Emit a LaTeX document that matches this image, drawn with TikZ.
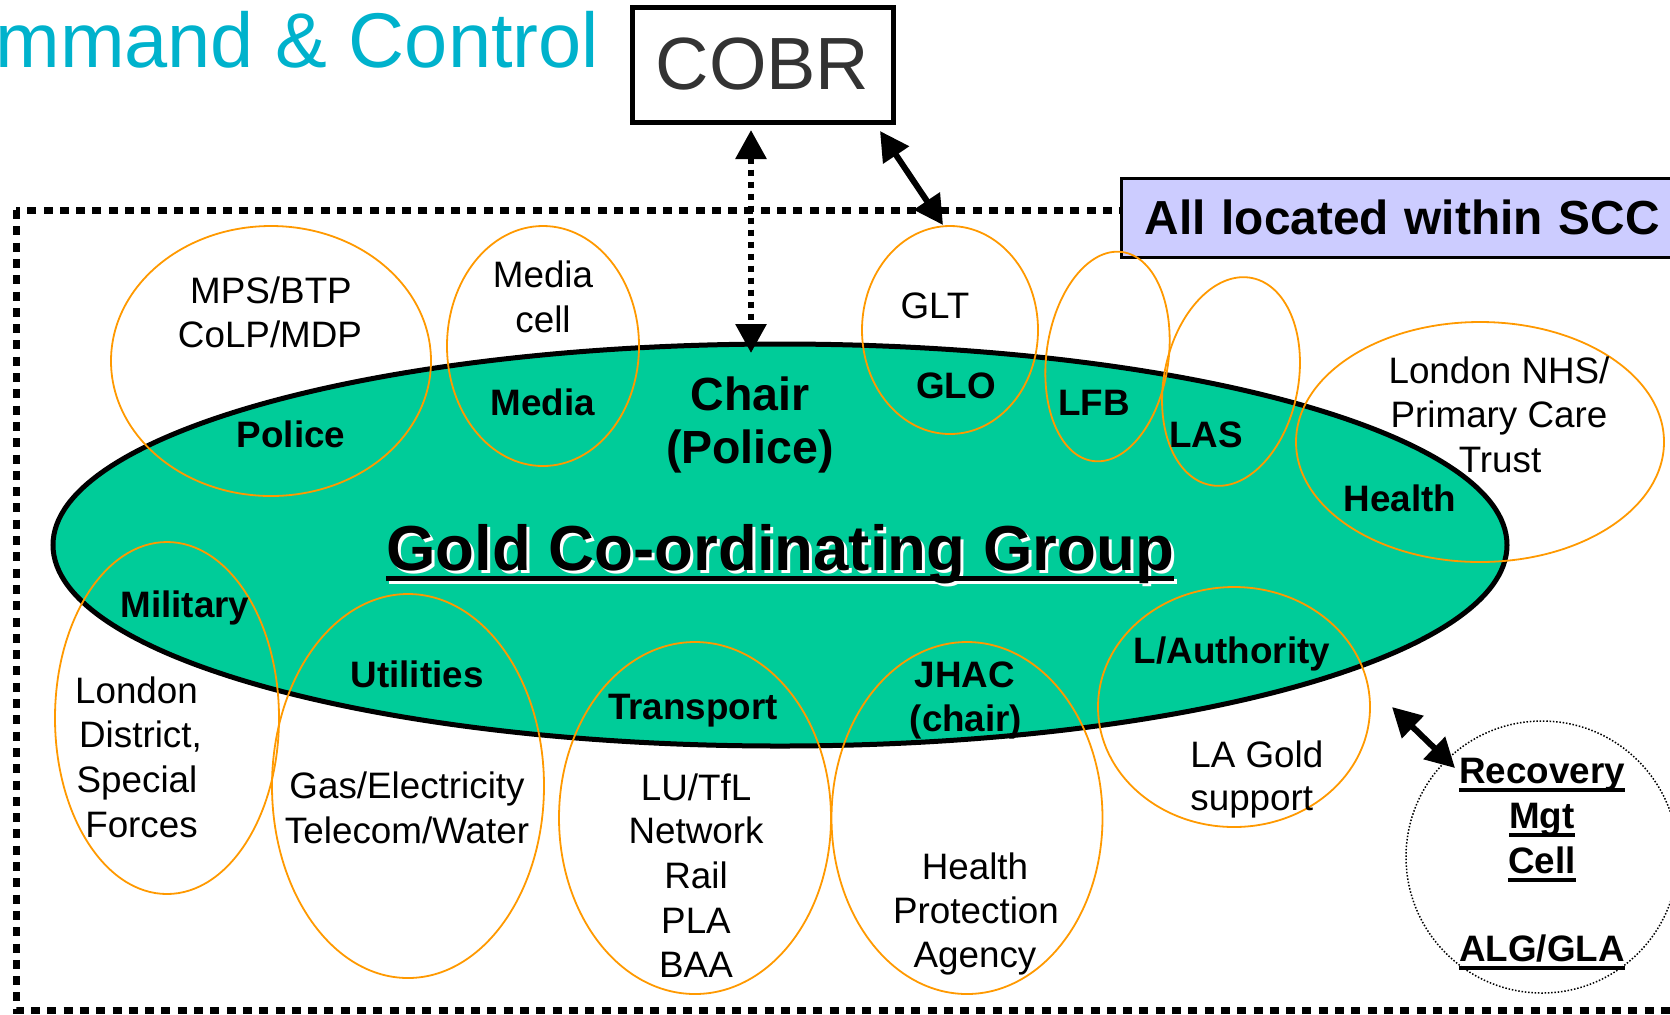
\documentclass[tikz,border=0pt]{standalone}
\usepackage{fontspec}
\setmainfont{Liberation Sans}
\usetikzlibrary{shapes.geometric,arrows.meta,calc}
\definecolor{gcgreen}{RGB}{0,204,153}
\definecolor{orangec}{RGB}{255,153,0}
\definecolor{titlecyan}{RGB}{0,178,204}
\definecolor{scclav}{RGB}{204,204,255}
\definecolor{cobrgray}{RGB}{51,51,51}
\newsavebox{\ulsave}
\newcommand{\ulbox}[3]{\sbox{\ulsave}{#3}\rlap{\rule[-#1]{\wd\ulsave}{#2}}\usebox{\ulsave}}
\begin{document}
\begin{tikzpicture}[x=0.5pt,y=-0.5pt,
  lbl/.style={inner sep=0pt, anchor=base, font=\fontsize{18.4}{22}\selectfont},
  blbl/.style={inner sep=0pt, anchor=base, font=\fontsize{18.4}{22}\selectfont\bfseries},
  chairlbl/.style={inner sep=0pt, anchor=base, font=\fontsize{23.25}{26}\selectfont\bfseries},
  reclbl/.style={inner sep=0pt, anchor=base, font=\fontsize{18.4}{22}\selectfont\bfseries},
  goldlbl/.style={inner sep=0pt, anchor=base, font=\fontsize{31.8}{34}\selectfont\bfseries},
  oell/.style={ellipse, draw=orangec, line width=0.9pt, inner sep=0pt, outer sep=0pt},
  frame/.style={line width=3.5pt, dash pattern=on 4.5pt off 3.65pt},
  arr/.style={line width=3pt, >={Triangle[length=14.5pt,width=15pt]}, <->},
]
\useasboundingbox (0,0) rectangle (1670,1014);
\clip (0,0) rectangle (1670,1014);

% dotted frame
\draw[frame] (16,210) rectangle (1720,1010);

% SCC label box
\node[draw, fill=scclav, line width=1.5pt, anchor=west, minimum height=39.5pt,
      text width=267pt, inner xsep=11.5pt, inner ysep=0pt, align=left,
      font=\fontsize{23.9}{26}\selectfont\bfseries] (scc) at (1120,217.5) {All located within SCC};

% main ellipse
\node[ellipse, draw, line width=2.5pt, fill=gcgreen, minimum width=727pt, minimum height=201pt,
      inner sep=0pt, outer sep=0pt] (gcg) at (780,545) {};

% orange ellipses
\node[oell, minimum width=160pt, minimum height=135pt] (police) at (271,361) {};
\node[oell, minimum width=96pt, minimum height=120pt] (media) at (543,346) {};
\node[oell, minimum width=88pt, minimum height=104pt] (glo) at (950,330) {};
\node[oell, minimum width=61pt, minimum height=105.5pt, rotate=-8] (lfb) at (1107.5,356.5) {};
\node[oell, minimum width=67pt, minimum height=105.6pt, rotate=-11.5] (las) at (1231,381.5) {};
\node[oell, minimum width=184pt, minimum height=120pt] (health) at (1480,442) {};
\node[oell, minimum width=112pt, minimum height=176pt] (military) at (167,718) {};
\node[oell, minimum width=136pt, minimum height=192pt] (utilities) at (408,786) {};
\node[oell, minimum width=136pt, minimum height=176pt] (transport) at (695,818) {};
\node[oell, minimum width=135.5pt, minimum height=176pt] (jhac) at (967,818) {};
\node[oell, minimum width=136pt, minimum height=120pt] (lauth) at (1234,707) {};
\node[circle, draw, line width=0.75pt, dash pattern=on 0.75pt off 0.9pt, minimum size=136pt,
      inner sep=0pt, outer sep=0pt] (rmc) at (1542,857) {};

% texts
\node[lbl] (tmps) at (271,303) {MPS/BTP};
\node[lbl] (tcolp) at (270,347) {CoLP/MDP};
\node[lbl] (tmc1) at (543,287) {Media};
\node[lbl] (tmc2) at (543,332) {cell};
\node[blbl] (tpolice) at (291,447) {Police};
\node[blbl] (tmedia) at (543,415) {Media};
\node[chairlbl] (tchair1) at (750,410) {Chair};
\node[chairlbl] (tchair2) at (750,463) {(Police)};
\node[lbl] (tglt) at (935,318) {GLT};
\node[blbl] (tglo) at (956,398) {GLO};
\node[blbl] (tlfb) at (1094,415) {LFB};
\node[blbl] (tlas) at (1206,447) {LAS};
\node[lbl] (tnhs1) at (1499,383) {London NHS/};
\node[lbl] (tnhs2) at (1499,427) {Primary Care};
\node[lbl] (tnhs3) at (1500,472) {Trust};
\node[blbl] (thealth) at (1400,511) {Health};
\node[blbl] (tmil) at (185,617) {Military};
\node[lbl] (tld1) at (136.5,703) {London};
\node[lbl] (tld2) at (140.5,747) {District,};
\node[lbl] (tld3) at (137,792) {Special};
\node[lbl] (tld4) at (141.5,837) {Forces};
\node[blbl] (tutil) at (417,687) {Utilities};
\node[lbl] (tgas1) at (407,798) {Gas/Electricity};
\node[lbl] (tgas2) at (407,843) {Telecom/Water};
\node[blbl] (ttrans) at (693,719) {Transport};
\node[lbl] (tlu1) at (696,800) {LU/TfL};
\node[lbl] (tlu2) at (696,843) {Network};
\node[lbl] (tlu3) at (696,888) {Rail};
\node[lbl] (tlu4) at (696,933) {PLA};
\node[lbl] (tlu5) at (696,977) {BAA};
\node[blbl] (tjhac1) at (965,687) {JHAC};
\node[blbl] (tjhac2) at (966,731) {(chair)};
\node[lbl] (thpa1) at (975,879) {Health};
\node[lbl] (thpa2) at (976,923) {Protection};
\node[lbl] (thpa3) at (975,967) {Agency};
\node[blbl] (tla) at (1232,663) {L/Authority};
\node[lbl, anchor=base west] (tlag1) at (1190,767) {LA Gold};
\node[lbl, anchor=base west] (tlag2) at (1190,810) {support};
\node[reclbl] (trec1) at (1542,783) {\ulbox{4.5pt}{2.2pt}{Recovery}};
\node[reclbl] (trec2) at (1542,828) {\ulbox{4.5pt}{2.2pt}{Mgt}};
\node[reclbl] (trec3) at (1542,873) {\ulbox{4.5pt}{2.2pt}{Cell}};
\node[reclbl] (trec4) at (1542,961) {\ulbox{4.5pt}{2.2pt}{ALG/GLA}};

% Gold title with white shadow
\node[goldlbl, text=white] (gcgshadow) at (783,573) {\ulbox{5.5pt}{2.5pt}{Gold Co-ordinating Group}};
\node[goldlbl, text=black] (gcgtitle) at (780,570) {\ulbox{5.5pt}{2.5pt}{Gold Co-ordinating Group}};

% COBR and title
\node[draw, line width=2.5pt, minimum width=130.5pt, minimum height=57.5pt, inner sep=0pt, outer sep=0pt,
      text=cobrgray, font=\fontsize{37}{40}\selectfont] (cobr) at (762.5,64.5) {COBR};
\node[anchor=base west, inner sep=0pt, text=titlecyan, font=\fontsize{38.8}{42}\selectfont] (title) at (-5,67) {mmand \& Control};

% connectors
\draw[arr, dash pattern=on 3pt off 3pt] ($(cobr.south)+(-11.5,8)$) -- ($(gcg.north)+(-29,9)$);
\draw[arr] ($(cobr.south east)+(-13,9)$) -- ($(glo.north)+(-7,-1)$);
\draw[arr] ($(lauth.east)+(22,0)$) -- ($(rmc.center)+(-87,-89)$);
\end{tikzpicture}
\end{document}
